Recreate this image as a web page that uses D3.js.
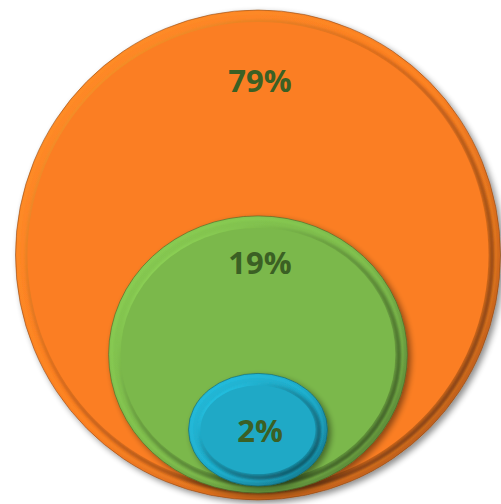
<!DOCTYPE html>
<html>
<head>
<meta charset="utf-8">
<script src="https://cdn.jsdelivr.net/npm/d3@7"></script>
<style>
    body { margin: 0; background: #fff; }
    svg { display: block; }
</style>
</head>
<body>
<div id="chart"></div>
<script>
var labels = ["79%", "19%", "2%"];
var values = [79, 19, 2];
var colours = ["#fb7e23", "#7bb84b", "#1fa9c6"];

var width = 501;
var height = 504;

var centreX = 258;
var baseY = 500;
var step = 7;      // each disc sits a little above the bottom of the one behind it
var rim = 12;      // width of the raised lip round each disc

var rxScale = d3.scalePow()
    .exponent(0.34)
    .domain([0, d3.max(values)])
    .range([0, 242.5]);

var ryScale = d3.scalePow()
    .exponent(0.4)
    .domain([0, d3.max(values)])
    .range([0, 245]);

var svg = d3.select("#chart")
    .append("svg")
    .attr("width", width)
    .attr("height", height);

var defs = svg.append("defs");

var shadow = defs.append("filter")
    .attr("id", "shadow")
    .attr("x", "-10%").attr("y", "-10%")
    .attr("width", "120%").attr("height", "120%");
shadow.append("feGaussianBlur").attr("in", "SourceAlpha").attr("stdDeviation", 3);
shadow.append("feOffset").attr("dx", 3).attr("dy", 3).attr("result", "off");
shadow.append("feComponentTransfer").append("feFuncA").attr("type", "linear").attr("slope", 0.45);
var merge = shadow.append("feMerge");
merge.append("feMergeNode");
merge.append("feMergeNode").attr("in", "SourceGraphic");

defs.append("filter")
    .attr("id", "soft")
    .append("feGaussianBlur")
    .attr("stdDeviation", 1.3);

var discs = values.map(function(v, i) {
    var rx = rxScale(v);
    var ry = ryScale(v);
    var bottom = baseY - i * step;
    return {
        value: v,
        label: labels[i],
        colour: colours[i],
        rx: rx,
        ry: ry,
        cx: centreX,
        cy: bottom - ry
    };
});

discs.forEach(function(d, i) {
    var base = d3.color(d.colour);

    var rimGrad = defs.append("linearGradient")
        .attr("id", "rim" + i)
        .attr("x1", 0).attr("y1", 0)
        .attr("x2", 1).attr("y2", 1);
    rimGrad.append("stop").attr("offset", "0%").attr("stop-color", base.brighter(0.3));
    rimGrad.append("stop").attr("offset", "50%").attr("stop-color", base);
    rimGrad.append("stop").attr("offset", "100%").attr("stop-color", base.darker(1.1));

    var edgeGrad = defs.append("linearGradient")
        .attr("id", "edge" + i)
        .attr("x1", 0).attr("y1", 0)
        .attr("x2", 1).attr("y2", 1);
    edgeGrad.append("stop").attr("offset", "0%").attr("stop-color", base.brighter(0.7));
    edgeGrad.append("stop").attr("offset", "40%").attr("stop-color", base.darker(0.4));
    edgeGrad.append("stop").attr("offset", "100%").attr("stop-color", base.darker(2.2));

    var g = svg.append("g").attr("class", "disc");

    // outer lip
    g.append("ellipse")
        .attr("cx", d.cx)
        .attr("cy", d.cy)
        .attr("rx", d.rx)
        .attr("ry", d.ry)
        .attr("fill", "url(#rim" + i + ")")
        .attr("stroke", base.darker(1.8))
        .attr("stroke-opacity", 0.7)
        .attr("stroke-width", 0.8)
        .attr("filter", "url(#shadow)");

    // light line along the top of the lip
    g.append("ellipse")
        .attr("cx", d.cx - 1)
        .attr("cy", d.cy - 1)
        .attr("rx", d.rx - 4)
        .attr("ry", d.ry - 4)
        .attr("fill", "none")
        .attr("stroke", base.brighter(0.5))
        .attr("stroke-opacity", 0.5)
        .attr("stroke-width", 1.5)
        .attr("filter", "url(#soft)");

    // groove between lip and face
    g.append("ellipse")
        .attr("cx", d.cx + 1.5)
        .attr("cy", d.cy + 1.5)
        .attr("rx", d.rx - rim + 2)
        .attr("ry", d.ry - rim + 2)
        .attr("fill", "none")
        .attr("stroke", "url(#edge" + i + ")")
        .attr("stroke-width", 4)
        .attr("filter", "url(#soft)");

    // face
    g.append("ellipse")
        .attr("cx", d.cx)
        .attr("cy", d.cy)
        .attr("rx", d.rx - rim)
        .attr("ry", d.ry - rim)
        .attr("fill", d.colour);
});

discs.forEach(function(d, i) {
    var top = d.cy - d.ry;
    var y;
    if (i < discs.length - 1) {
        var next = discs[i + 1];
        var nextTop = next.cy - next.ry;
        y = (top + nextTop) / 2 - 32 + 11.5;
    } else {
        y = d.cy + 12;
    }
    svg.append("text")
        .attr("x", d.cx + 2)
        .attr("y", y)
        .attr("text-anchor", "middle")
        .attr("font-family", "'Open Sans', 'DejaVu Sans', sans-serif")
        .attr("font-weight", "bold")
        .attr("font-size", "31px")
        .attr("fill", "#3b6024")
        .text(d.label);
});
</script>
</body>
</html>
